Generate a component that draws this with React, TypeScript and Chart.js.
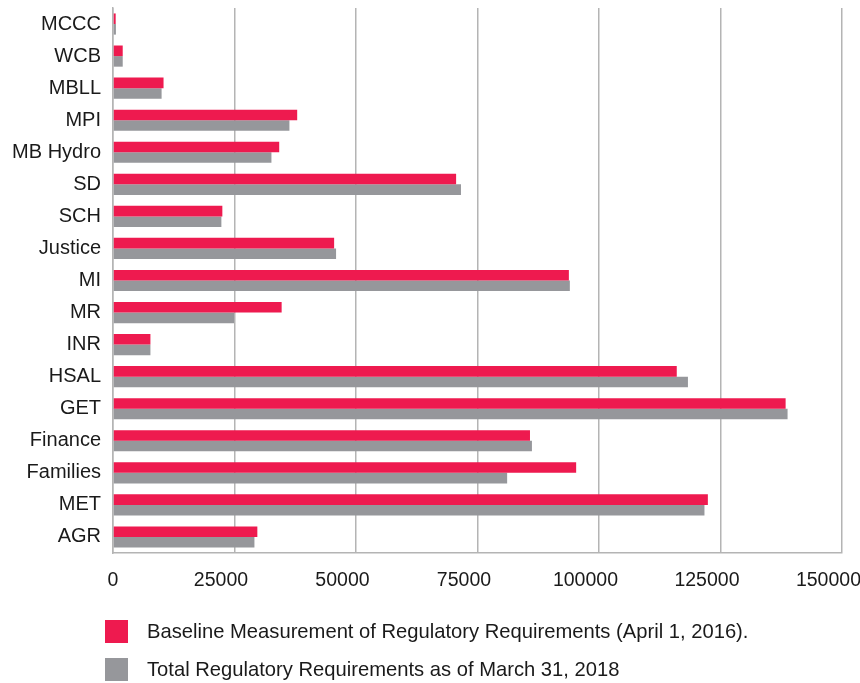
import React, { useEffect, useRef } from "react";
import { Chart, registerables } from "chart.js";

Chart.register(...registerables);

const categories = [
  "MCCC", "WCB", "MBLL", "MPI", "MB Hydro", "SD", "SCH", "Justice", "MI",
  "MR", "INR", "HSAL", "GET", "Finance", "Families", "MET", "AGR",
];

const baseline2016 = [
  550, 2000, 10400, 37900, 34200, 70600, 22500, 45500, 93800,
  34700, 7700, 116000, 138400, 85800, 95300, 122400, 29700,
];

const total2018 = [
  600, 2000, 10000, 36300, 32600, 71600, 22300, 45900, 94000,
  24900, 7700, 118300, 138800, 86200, 81100, 121700, 29100,
];

const xTicks = [0, 25000, 50000, 75000, 100000, 125000, 150000];

const seriesLabels = [
  "Baseline Measurement of Regulatory Requirements (April 1, 2016).",
  "Total Regulatory Requirements as of March 31, 2018",
];

const RED = "#EE1A4F";
const GREY = "#96979B";
const FONT = "'Liberation Sans', Arial, Helvetica, sans-serif";

// Legend stacked in two left-aligned rows under the axis
const stackedLegend = {
  id: "stackedLegend",
  afterDraw(chart: Chart) {
    const ctx = chart.ctx;
    ctx.save();
    ctx.font = `20.2px ${FONT}`;
    ctx.textBaseline = "middle";
    ctx.textAlign = "left";
    const rows = [620, 658];
    chart.data.datasets.forEach((ds, i) => {
      const y = rows[i];
      ctx.fillStyle = ds.backgroundColor as string;
      ctx.fillRect(105, y, 23, 23);
      ctx.fillStyle = "#1a1a1a";
      ctx.fillText(ds.label as string, 147, y + 12);
    });
    ctx.restore();
  },
};

// Remove the extra room Chart.js reserves for overflowing tick labels
const noOverflow = (scale: any) => {
  scale.paddingTop = 0;
  scale.paddingBottom = 0;
  scale.paddingLeft = 0;
  scale.paddingRight = 0;
};

export default function App() {
  const canvasRef = useRef<HTMLCanvasElement | null>(null);

  useEffect(() => {
    if (!canvasRef.current) return;
    const chart = new Chart(canvasRef.current, {
      type: "bar",
      data: {
        labels: categories,
        datasets: [
          { label: seriesLabels[0], data: baseline2016, backgroundColor: RED },
          { label: seriesLabels[1], data: total2018, backgroundColor: GREY },
        ],
      },
      options: {
        indexAxis: "y",
        animation: false,
        responsive: false,
        maintainAspectRatio: false,
        devicePixelRatio: 1,
        datasets: {
          bar: { barPercentage: 1, categoryPercentage: 0.66 },
        },
        layout: { padding: { left: 0, right: 18, top: 8, bottom: 0 } },
        plugins: {
          legend: { display: false },
          tooltip: { enabled: false },
        },
        scales: {
          x: {
            min: 0,
            max: 150000,
            afterBuildTicks: (scale: any) => {
              scale.ticks = xTicks.map((v) => ({ value: v }));
            },
            afterFit: (scale: any) => {
              scale.height = 130;
              noOverflow(scale);
            },
            grid: {
              color: "#b4b4b4",
              lineWidth: 1.5,
              drawTicks: false,
            },
            border: { display: true, color: "#b4b4b4", width: 1.5 },
            ticks: {
              padding: 16,
              color: "#1a1a1a",
              font: { family: FONT, size: 19.5 },
              maxRotation: 0,
              // non-zero labels sit slightly left of their grid lines
              callback: (v: any) => (Number(v) === 0 ? "0" : `${v}     `),
            },
          },
          y: {
            afterFit: (scale: any) => {
              scale.width = 113;
              noOverflow(scale);
            },
            grid: { display: false, drawTicks: false },
            border: { display: true, color: "#b4b4b4", width: 1.5 },
            ticks: {
              padding: 12,
              color: "#1a1a1a",
              font: { family: FONT, size: 20 },
              autoSkip: false,
            },
          },
        },
      },
      plugins: [stackedLegend],
    });
    return () => chart.destroy();
  }, []);

  return (
    <div
      style={{
        position: "fixed",
        left: 0,
        top: 0,
        width: 860,
        height: 683,
        background: "#ffffff",
      }}
    >
      <canvas ref={canvasRef} width={860} height={683} style={{ display: "block" }} />
    </div>
  );
}
